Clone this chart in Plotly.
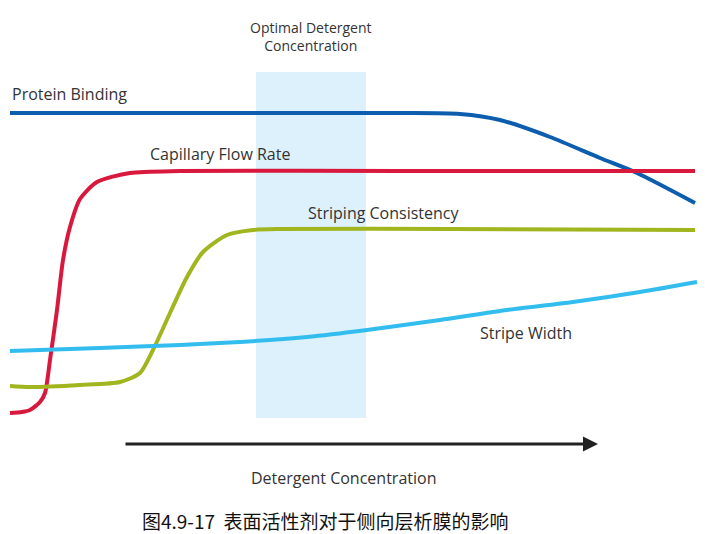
import plotly.graph_objects as go

# Curve points (x: detergent concentration, y: response; screen-like units, y downward)
protein_x = [10, 200, 400, 460, 500, 550, 600, 637, 695]
protein_y = [113, 113, 113, 114, 120, 137, 158, 173, 203]

flow_x = [10, 22, 30, 40, 45, 50, 57, 63, 70, 80, 97, 130, 180, 400, 695]
flow_y = [413, 412, 410, 402, 393, 360, 310, 260, 227, 199, 182, 173, 171, 171, 171]

striping_x = [10, 30, 80, 120, 140, 153, 170, 187, 203, 227, 253, 280, 450, 695]
striping_y = [386, 387, 385, 382, 373, 350, 313, 277, 252, 235, 230, 229, 229, 230]

width_x = [10, 100, 180, 240, 307, 367, 440, 507, 573, 640, 697]
width_y = [351, 348, 345, 342, 337, 330, 320, 310, 302, 292, 282]

optimal_band = [256, 366]
band_y = [72, 418]

labels = ["Protein Binding", "Capillary Flow Rate", "Striping Consistency", "Stripe Width"]
colors = ["#0C5DAE", "#D8193D", "#A1B51F", "#33BDEF"]
caption = "图4.9-17\u00a0\u00a0表面活性剂对于侧向层析膜的影响"

fig = go.Figure()

fig.add_shape(type="rect", x0=optimal_band[0], x1=optimal_band[1], y0=band_y[0], y1=band_y[1],
              xref="x", yref="y", fillcolor="#DDF1FC", line=dict(width=0), layer="below")

for xs, ys, c in [(protein_x, protein_y, colors[0]), (flow_x, flow_y, colors[1]),
                  (striping_x, striping_y, colors[2]), (width_x, width_y, colors[3])]:
    fig.add_trace(go.Scatter(x=xs, y=ys, mode="lines",
                             line=dict(color=c, width=4, shape="spline", smoothing=0.7),
                             hoverinfo="skip", showlegend=False, cliponaxis=False))

font = dict(family="Open Sans", size=16, color="#333333")
label_pos = [(10, 94), (148, 154), (306, 213), (478, 333)]
for t, (lx, ly) in zip(labels, label_pos):
    fig.add_annotation(x=lx, y=ly, text=t, showarrow=False, xanchor="left", yanchor="middle",
                       font=font, xref="x", yref="y")

fig.add_annotation(x=311, y=36, text="Optimal Detergent<br>Concentration", showarrow=False,
                   xanchor="center", yanchor="middle", font=dict(family="Open Sans", size=14, color="#333333"),
                   xref="x", yref="y")

fig.add_annotation(x=598, y=444, ax=124, ay=444, xref="x", yref="y", axref="x", ayref="y",
                   text="", showarrow=True, arrowhead=2, arrowsize=1.0, arrowwidth=3, arrowcolor="#222222")

fig.add_annotation(x=343, y=478, text="Detergent Concentration", showarrow=False,
                   xanchor="center", yanchor="middle", font=font, xref="x", yref="y")

fig.add_annotation(x=140, y=520, text=caption, showarrow=False,
                   xanchor="left", yanchor="middle",
                   font=dict(family="Noto Sans CJK SC", size=19, color="#111111"), xref="x", yref="y")

fig.update_xaxes(range=[0, 705], visible=False, fixedrange=True)
fig.update_yaxes(range=[534, 0], visible=False, fixedrange=True)
fig.update_layout(width=705, height=534, margin=dict(l=0, r=0, t=0, b=0),
                  plot_bgcolor="white", paper_bgcolor="white")

fig.write_html("out.html", config={"displayModeBar": False},
               post_script="document.body.style.margin='0';document.body.style.overflow='hidden';")
